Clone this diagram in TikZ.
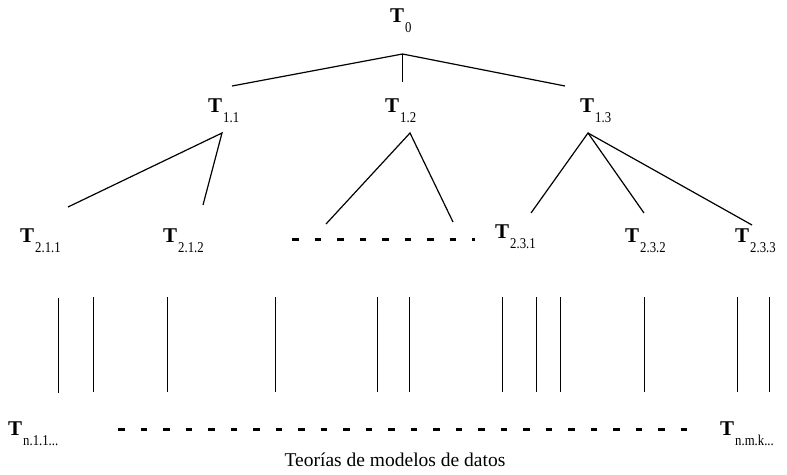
\documentclass[tikz,border=0pt]{standalone}
\usepackage{fontspec}
\setmainfont{Liberation Serif}
\newcommand{\TT}[1]{{\fontsize{21}{21}\selectfont\bfseries T}\kern1pt\raisebox{-10pt}{\scalebox{0.85}[1]{\fontsize{15}{15}\selectfont #1}}}
\begin{document}
\begin{tikzpicture}[x=1pt,y=-1pt,
  lab/.style={inner sep=0pt,anchor=base west},
  edge/.style={line width=1.2pt},
  vline/.style={line width=1pt},
  dots/.style={line width=3pt,dash pattern=on 6.5pt off 16pt}]
\useasboundingbox (0,0) rectangle (787,474);
% labels
\node[lab] (t0)   at (390,22)  {\TT{0}};
\node[lab] (t11)  at (208,112) {\TT{1.1}};
\node[lab] (t12)  at (385,112) {\TT{1.2}};
\node[lab] (t13)  at (580,112) {\TT{1.3}};
\node[lab] (t211) at (20,242)  {\TT{2.1.1}};
\node[lab] (t212) at (163,242) {\TT{2.1.2}};
\node[lab] (t231) at (495,238) {\TT{2.3.1}};
\node[lab] (t232) at (625,242) {\TT{2.3.2}};
\node[lab] (t233) at (735,242) {\TT{2.3.3}};
\node[lab] (tn1)  at (8,435)   {\TT{n.1.1...}};
\node[lab] (tnm)  at (720,435) {\TT{n.m.k...}};
\node[inner sep=0pt,anchor=base] (cap) at (395,466) {\fontsize{19.5}{19.5}\selectfont Teorías de modelos de datos};
% tree coordinates
\coordinate (a0) at (402.5,54);
\coordinate (b1) at (232,86);
\coordinate (b2) at (402.5,82);
\coordinate (b3) at (565,86);
\coordinate (a1) at (222,133);
\coordinate (c1) at (68,207);
\coordinate (c2) at (203,205);
\coordinate (a2) at (410,133);
\coordinate (c3) at (326,224);
\coordinate (c4) at (453,222);
\coordinate (a3) at (588,133);
\coordinate (c5) at (531,213);
\coordinate (c6) at (644,213);
\coordinate (c7) at (752,225);
\draw[edge] (b1) -- (a0) -- (b3);
\draw[line width=1pt] (a0) -- (b2);
\draw[edge] (c1) -- (a1) -- (c2);
\draw[edge] (c3) -- (a2) -- (c4);
\draw[edge] (c5) -- (a3) -- (c6);
\draw[edge] (a3) -- (c7);
% dashed rows
\coordinate (d1) at (292,239);
\coordinate (d2) at (475,239);
\draw[dots] (d1) -- (d2);
\coordinate (d3) at (118,429);
\coordinate (d4) at (688,429);
\draw[dots] (d3) -- (d4);
% vertical lines
\foreach \x/\ya/\yb in {58.5/298/393,93/297/392,167/297/392,275.5/297/392,377/297/392,409.5/297/392,502.5/297/392,536.5/297/392,560.5/297/392,644.5/297/392,737.5/297/392,769/297/392}
  \draw[vline] (\x,\ya) -- (\x,\yb);
\end{tikzpicture}
\end{document}
